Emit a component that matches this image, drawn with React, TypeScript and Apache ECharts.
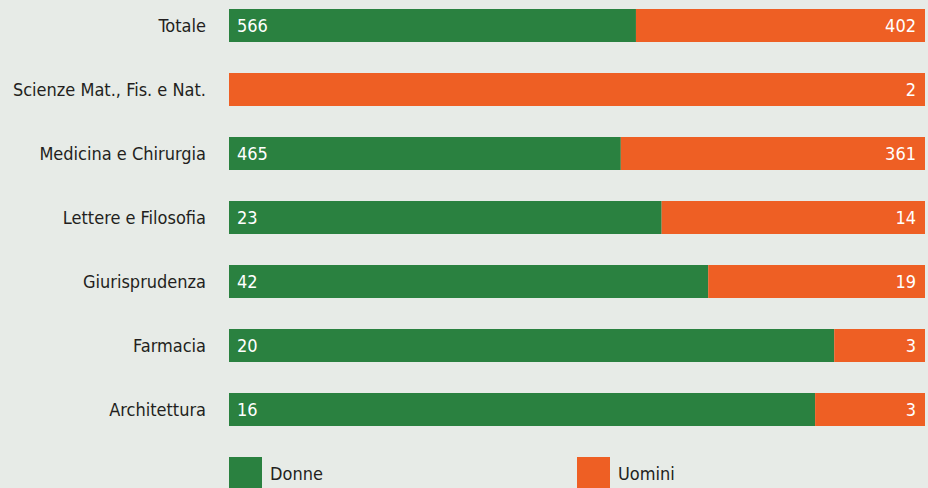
import React, { useEffect, useRef } from "react";
import * as echarts from "echarts";

const categories = [
  "Totale",
  "Scienze Mat., Fis. e Nat.",
  "Medicina e Chirurgia",
  "Lettere e Filosofia",
  "Giurisprudenza",
  "Farmacia",
  "Architettura",
];
const donne = [566, 0, 465, 23, 42, 20, 16];
const uomini = [402, 2, 361, 14, 19, 3, 3];
const seriesNames = ["Donne", "Uomini"];

const FONT = "'Liberation Sans Narrow', 'DejaVu Sans Condensed', 'Roboto Condensed', sans-serif";
const GREEN = "#2a8140";
const ORANGE = "#ee5f24";
const BG = "#e7ebe7";

export default function App() {
  const ref = useRef<HTMLDivElement>(null);
  useEffect(() => {
    document.body.style.margin = "0";
    const chart = echarts.init(ref.current!, null, { renderer: "svg" });
    const totals = donne.map((d, i) => d + uomini[i]);
    const pct = (arr: number[]) =>
      arr.map((v, i) => ({ value: (v / totals[i]) * 100, raw: v }));
    chart.setOption({
      animation: false,
      backgroundColor: BG,
      textStyle: { fontFamily: FONT },
      grid: {
        left: 229,
        right: 3,
        top: -6.5,
        height: 448,
        containLabel: false,
        outerBoundsMode: "none",
      },
      xAxis: { type: "value", min: 0, max: 100, show: false },
      yAxis: {
        type: "category",
        data: categories,
        inverse: true,
        axisLine: { show: false },
        axisTick: { show: false },
        splitLine: { show: false },
        axisLabel: { color: "#231f20", fontSize: 18, fontFamily: FONT, margin: 23 },
      },
      legend: [
        {
          data: [seriesNames[0]],
          left: 229,
          top: 457,
          itemWidth: 33,
          itemHeight: 33,
          itemGap: 0,
          icon: "rect",
          textStyle: { color: "#231f20", fontSize: 18, fontFamily: FONT, padding: [0, 0, 0, 3] },
          padding: 0,
        },
        {
          data: [seriesNames[1]],
          left: 577,
          top: 457,
          itemWidth: 33,
          itemHeight: 33,
          itemGap: 0,
          icon: "rect",
          textStyle: { color: "#231f20", fontSize: 18, fontFamily: FONT, padding: [0, 0, 0, 3] },
          padding: 0,
        },
      ],
      series: [
        {
          name: seriesNames[0],
          type: "bar",
          stack: "total",
          barWidth: 33,
          itemStyle: { color: GREEN },
          data: pct(donne),
          label: {
            show: true,
            position: "insideLeft",
            distance: 8,
            color: "#ffffff",
            fontSize: 18,
            fontFamily: FONT,
            formatter: (p: any) => (p.data.raw ? String(p.data.raw) : ""),
          },
        },
        {
          name: seriesNames[1],
          type: "bar",
          stack: "total",
          barWidth: 33,
          itemStyle: { color: ORANGE },
          data: pct(uomini),
          label: {
            show: true,
            position: "insideRight",
            distance: 9,
            color: "#ffffff",
            fontSize: 18,
            fontFamily: FONT,
            formatter: (p: any) => (p.data.raw ? String(p.data.raw) : ""),
          },
        },
      ],
    });
    return () => chart.dispose();
  }, []);
  return <div ref={ref} style={{ width: 928, height: 488 }} />;
}
